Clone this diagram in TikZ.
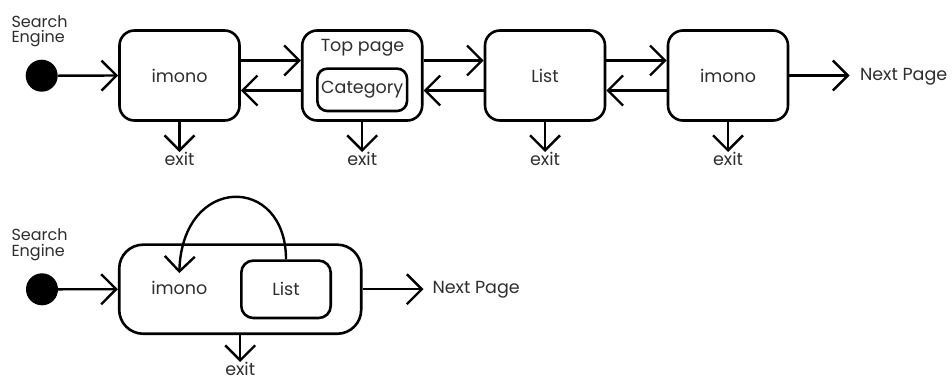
\documentclass[tikz,border=0pt]{standalone}
\usepackage{fontspec}
\setmainfont{Poppins}
\usetikzlibrary{arrows.meta}
\begin{document}
\begin{tikzpicture}[x=1pt,y=-1pt,
  every node/.style={font=\fontsize{17.5}{14}\selectfont, text=black!82},
  state/.style={draw=black, line width=2.6pt, rounded corners=15pt,
    minimum width=120pt, minimum height=90pt, inner sep=0pt},
  substate/.style={draw=black, line width=2.6pt, inner sep=0pt},
  initial/.style={circle, fill=black, minimum size=32pt, inner sep=0pt},
  trans/.style={line width=2.4pt, -{Straight Barb[length=15pt,width=30pt]}},
  lbl/.style={inner sep=0pt, outer sep=0pt},
  source/.style={lbl, anchor=north west, align=left,
    font=\fontsize{16}{15.5}\selectfont},
  exitlbl/.style={inner sep=0.5pt, outer sep=0pt, anchor=north}
]
\useasboundingbox (0,0) rectangle (952,381);

% ---------- page-by-page flow ----------
\node[source] (se1) at (11.5,15.5) {Search\\Engine};
\node[initial] (d1) at (41.7,75.7) {};

\node[state] (b1) at (179.5,75.5) {imono};
\node[state] (b2) at (362.2,75.5) {};
\node[lbl] (tp) at (362.5,47.7) {Top page};
\node[substate, rounded corners=10pt, minimum width=89.7pt, minimum height=42.4pt]
  (cat) at (362.2,89.8) {Category};
\node[state] (b3) at (545,75.5) {List};
\node[state] (b4) at (728,75.5) {imono};
\node[lbl, anchor=base west] (n1) at (860,80.5) {Next Page};

\draw[trans] (d1.east) -- (b1.west);
\draw[trans] ([yshift=15pt]b1.east) -- ([yshift=15pt]b2.west);
\draw[trans] ([yshift=-15pt]b2.west) -- ([yshift=-15pt]b1.east);
\draw[trans] ([yshift=15pt]b2.east) -- ([yshift=15pt]b3.west);
\draw[trans] ([yshift=-15pt]b3.west) -- ([yshift=-15pt]b2.east);
\draw[trans] ([yshift=15pt]b3.east) -- ([yshift=15pt]b4.west);
\draw[trans] ([yshift=-15pt]b4.west) -- ([yshift=-15pt]b3.east);
\draw[trans] (b4.east) -- ([xshift=-10.5pt]b4.east -| n1.west);

\node[exitlbl] (x1) at (179.5,152) {exit};
\node[exitlbl] (x2) at (362.2,152) {exit};
\node[exitlbl] (x3) at (545,152) {exit};
\node[exitlbl] (x4) at (728,152) {exit};
\draw[trans] (b1.south) -- (x1.north);
\draw[trans] (b2.south) -- (x2.north);
\draw[trans] (b3.south) -- (x3.north);
\draw[trans] (b4.south) -- (x4.north);

% ---------- combined page ----------
\node[source] (se2) at (11.5,229) {Search\\Engine};
\node[initial] (d2) at (42,289.3) {};

\node[state, rounded corners=24pt, minimum width=242pt, minimum height=89.1pt]
  (big) at (240.2,289.2) {};
\node[lbl] (im2) at (179.3,288.3) {imono};
\node[substate, rounded corners=12pt, minimum width=89.4pt, minimum height=57.4pt]
  (l2) at (286,289.3) {List};
\node[lbl, anchor=base west] (n2) at (432.5,293.8) {Next Page};

\draw[trans] (d2.east) -- (big.west);
\draw[trans] (l2.north) .. controls +(0,-85) and +(3,-99) .. ([yshift=8.5pt]im2.north);
\draw[trans] (big.east) -- ([xshift=-9pt]big.east -| n2.west);

\node[exitlbl] (x5) at (240.2,362) {exit};
\draw[trans] (big.south) -- (x5.north);
\end{tikzpicture}
\end{document}
